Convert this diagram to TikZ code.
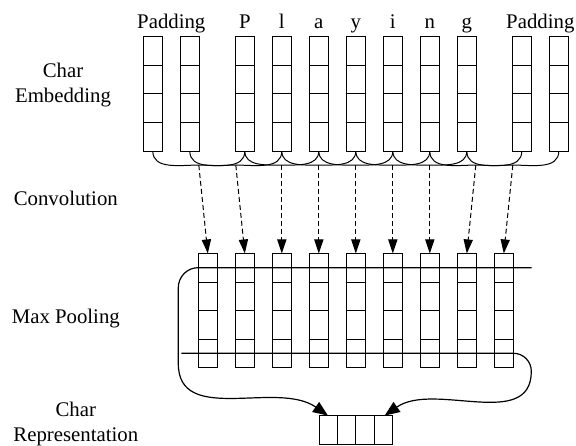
\documentclass[tikz,border=0pt]{standalone}
\usepackage{fontspec}
\setmainfont{Liberation Serif}
\usetikzlibrary{arrows.meta,positioning,calc}

\begin{document}
\begin{tikzpicture}[
        x=0.5pt, y=-0.5pt,
        node distance=9pt,
        font=\fontsize{10.4pt}{12.85pt}\selectfont,
        col/.style={draw, line width=0.5pt, inner sep=0pt, outer sep=0pt, minimum width=9.5pt, minimum height=57.2pt,
          path picture={\foreach \f in {0.25,0.5,0.75}
            \draw[line width=0.5pt] ($(path picture bounding box.north west)!\f!(path picture bounding box.south west)$) -- ($(path picture bounding box.north east)!\f!(path picture bounding box.south east)$);}},
        rep/.style={draw, line width=0.5pt, inner sep=0pt, outer sep=0pt, minimum width=36.7pt, minimum height=14.5pt,
          path picture={\foreach \f in {0.25,0.5,0.75}
            \draw[line width=0.5pt] ($(path picture bounding box.north west)!\f!(path picture bounding box.north east)$) -- ($(path picture bounding box.south west)!\f!(path picture bounding box.south east)$);}},
        lbl/.style={inner sep=0pt, text height=7.2pt, text depth=2.2pt},
        side/.style={anchor=base, align=center},
        brace/.style={line width=0.5pt},
        conv/.style={-{Triangle[length=7pt,width=4.6pt]}, line width=0.5pt, dash pattern=on 2.5pt off 1.5pt},
        pool/.style={-{Triangle[length=7.5pt,width=6pt]}, line width=0.6pt}
      ]
        \useasboundingbox (0,0) rectangle (576,445);
        % char embedding
        \node[col] (emb1) at (152.8,93.85) {};
        \node[col, right=of emb1] (emb2) {};
        \node[col, right=18pt of emb2] (emb3) {};
        \node[col, right=of emb3] (emb4) {};
        \node[col, right=of emb4] (emb5) {};
        \node[col, right=of emb5] (emb6) {};
        \node[col, right=of emb6] (emb7) {};
        \node[col, right=of emb7] (emb8) {};
        \node[col, right=of emb8] (emb9) {};
        \node[col, right=18pt of emb9] (emb10) {};
        \node[col, right=of emb10] (emb11) {};
        \node[lbl, above=1.6pt of $(emb1.north)!0.5!(emb2.north)$] (padl) {Padding};
        \node[lbl, above=1.6pt of emb3] (chP) {P};
        \node[lbl, above=1.6pt of emb4] (chl) {l};
        \node[lbl, above=1.6pt of emb5] (cha) {a};
        \node[lbl, above=1.6pt of emb6] (chy) {y};
        \node[lbl, above=1.6pt of emb7] (chi) {i};
        \node[lbl, above=1.6pt of emb8] (chn) {n};
        \node[lbl, above=1.6pt of emb9] (chg) {g};
        \node[lbl, above=1.6pt of $(emb10.north)!0.5!(emb11.north)$] (padr) {Padding};
        % max pooling
        \node[col, below=51.2pt of emb3] (pool2) {};
        \node[col, left=of pool2] (pool1) {};
        \node[col, right=of pool2] (pool3) {};
        \node[col, right=of pool3] (pool4) {};
        \node[col, right=of pool4] (pool5) {};
        \node[col, right=of pool5] (pool6) {};
        \node[col, right=of pool6] (pool7) {};
        \node[col, right=of pool7] (pool8) {};
        \node[col, right=of pool8] (pool9) {};
        \node[rep, below=23.85pt of pool5] (out) {};
        % labels on the left
        \node[side] (lemb) at (63,102.7) {Char\\Embedding};
        \node[side] (lconv) at (65.8,205) {Convolution};
        \node[side] (lpool) at (65.8,323.3) {Max Pooling};
        \node[side] (lrep) at (75.8,441.7) {Char\\Representation};
        % convolution windows
        \foreach \k [evaluate=\k as \m using int(\k+2)] in {1,...,9} {
          \coordinate (dip\k) at ($(emb\k.south)!0.5!(emb\m.south)+(0,14)$);
          \draw[brace] (emb\k.south) to[out=-90,in=180] (dip\k) to[out=0,in=-90] (emb\m.south);
          \draw[conv] (dip\k) -- (pool\k.north);
        }
        % pooling lines
        \coordinate (mptop) at ([shift={(13.85pt,-7.1pt)}]pool9.north);
        \coordinate (mpbot) at ([shift={(-13.2pt,7.3pt)}]pool1.south);
        \draw[pool] (mptop) -- (mptop -| pool1.west) to[out=180,in=90] ++(-20,20) -- ++(0,76) to[out=-90,in=145] ([xshift=4.4pt]out.north west);
        \draw[pool] (mpbot) -- (mpbot -| pool9.east) to[out=0,in=90] ++(18,18) to[out=-90,in=35] ([xshift=-3.9pt]out.north east);
      \end{tikzpicture}
\end{document}
